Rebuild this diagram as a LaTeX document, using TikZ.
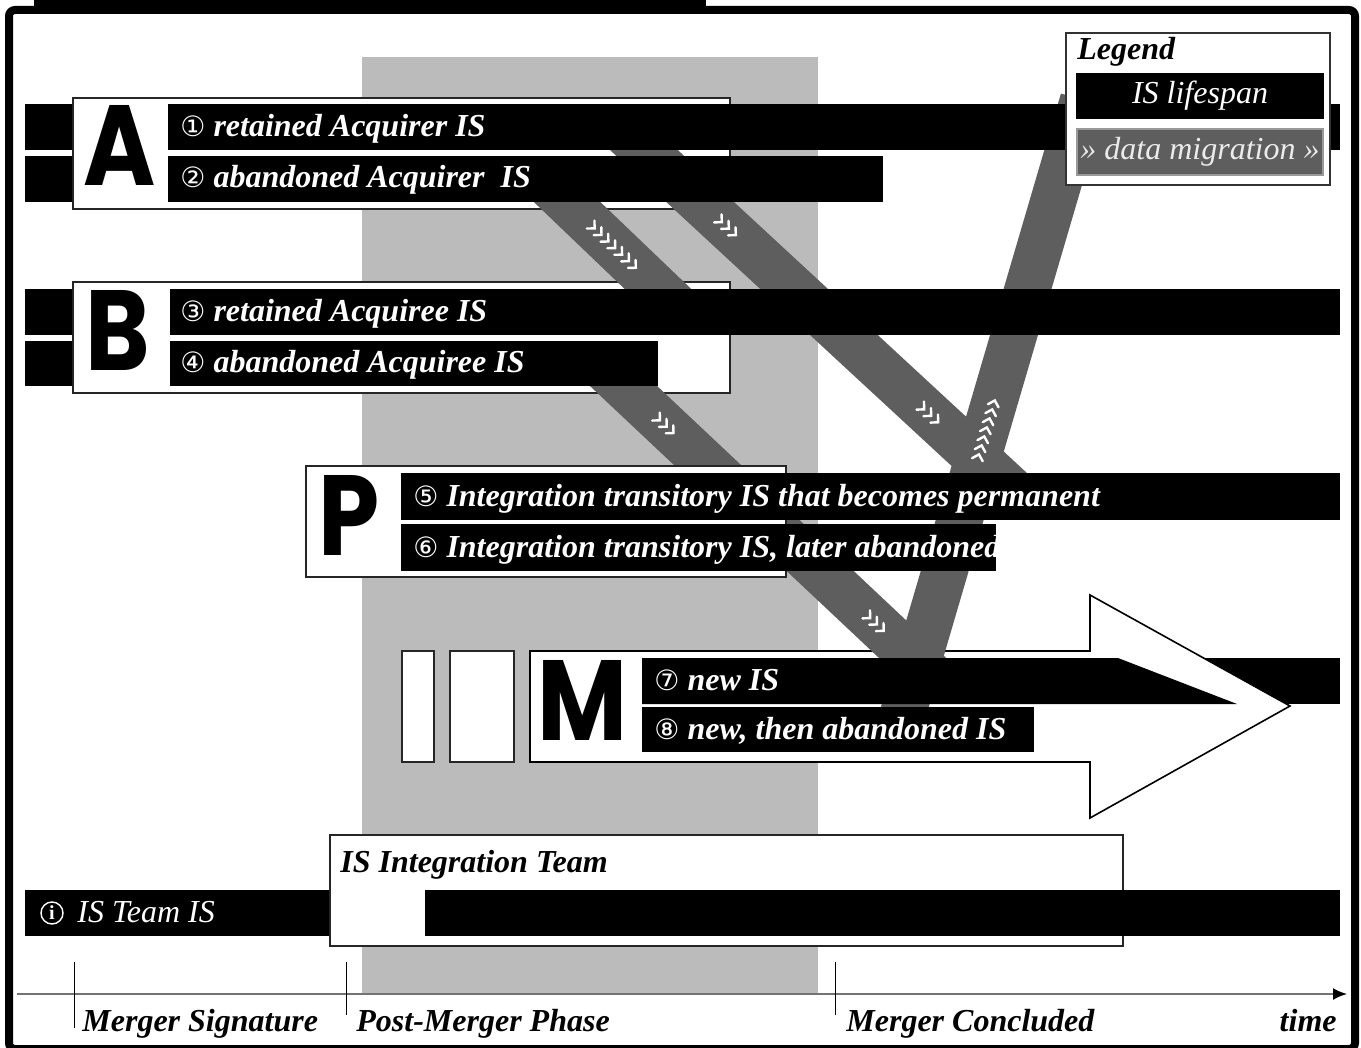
\documentclass[tikz,border=0pt]{standalone}
\usepackage{fontspec}
\setmainfont{Liberation Serif}
\newfontfamily\circfont{DejaVu Sans}
\newfontfamily\bigletter{Poppins}
\usepackage{tikz}
\usetikzlibrary{positioning,arrows.meta}

\definecolor{phasegray}{HTML}{BBBBBB}
\definecolor{migrgray}{HTML}{5E5E5E}

\newcommand{\cnum}[1]{{\circfont\mdseries\upshape\fontsize{14}{14}\selectfont #1}}
\newcommand{\grp}[1]{\scalebox{0.86}[1]{#1}}

\tikzset{
  isbar/.style={fill=black},
  groupbox/.style={fill=white, draw=black!85, line width=1pt},
  barlabel/.style={anchor=base west, inner sep=0pt, text=white,
    font=\fontsize{16}{18}\selectfont\bfseries\itshape},
  plainlabel/.style={anchor=base west, inner sep=0pt,
    font=\fontsize{16}{18}\selectfont\bfseries\itshape},
  bigchar/.style={inner sep=0pt, font=\bigletter\bfseries\fontsize{57}{57}\selectfont},
  migr/.style={draw=migrgray, line width=23pt},
  chv/.pic={\draw[white, line width=1.2pt, line cap=round] (-3,5.5) -- (2.5,0) -- (-3,-5.5);},
  tick/.style={draw=black, line width=0.4pt}
}

\begin{document}
\begin{tikzpicture}[x=0.5pt, y=-0.5pt]
  \useasboundingbox (0,0) rectangle (1361,1048);
  \fill[white] (0,0) rectangle (1361,1048);

  % post-merger phase
  \fill[phasegray] (362,57) rectangle (818,994);

  % lifespans running in from the left
  \fill[isbar] (25,104) rectangle (1340,150);
  \fill[isbar] (25,156) rectangle (883,202);
  \fill[isbar] (25,289) rectangle (1340,335);
  \fill[isbar] (25,341) rectangle (658,386);
  \fill[isbar] (25,890) rectangle (1340,936);
  \fill[isbar] (642,658) rectangle (1340,704);

  % groups A and B
  \draw[groupbox] (73,98) rectangle (730,209);
  \draw[groupbox] (73,282) rectangle (730,393);
  \node[bigchar] (A) at (120,145) {\grp{A}};
  \node[bigchar] (B) at (118,330) {\grp{B}};

  % group M
  \draw[groupbox] (402,651) rectangle (434,762);
  \draw[groupbox] (450,651) rectangle (514,762);
  \draw[fill=white, draw=black, line width=0.8pt]
    (530,651) -- (1090,651) -- (1090,595) -- (1290,706) -- (1090,818)
    -- (1090,762) -- (530,762) -- cycle;
  \node[bigchar] (M) at (582,700) {\grp{M}};

  % data migration
  \coordinate (l1a) at (542,178);  \coordinate (l1b) at (682,312);
  \coordinate (l2a) at (619,127);  \coordinate (l2b) at (1019,497);
  \coordinate (l3a) at (598,362);  \coordinate (l3b) at (936,680);
  \coordinate (ua)  at (901,720);  \coordinate (ub)  at (1083,100);
  \draw[migr] (l1a) -- (l1b);
  \draw[migr] (l2a) -- (l2b);
  \draw[migr] (l3a) -- (l3b);
  \draw[migr] (ua) -- (ub);
  \foreach \i in {-3,...,3} {
    \pgfmathsetmacro\pp{0.51+\i*0.049}
    \path (l1a) -- (l1b) pic[pos=\pp, sloped] {chv};
    \pgfmathsetmacro\pp{0.468+\i*0.0145}
    \path (ua) -- (ub) pic[pos=\pp, sloped] {chv};
  }
  \foreach \i in {-1,0,1} {
    \pgfmathsetmacro\pp{0.27+\i*0.0175}
    \path (l2a) -- (l2b) pic[pos=\pp, sloped] {chv};
    \pgfmathsetmacro\pp{0.776+\i*0.0175}
    \path (l2a) -- (l2b) pic[pos=\pp, sloped] {chv};
    \pgfmathsetmacro\pp{0.198+\i*0.02}
    \path (l3a) -- (l3b) pic[pos=\pp, sloped] {chv};
    \pgfmathsetmacro\pp{0.82+\i*0.02}
    \path (l3a) -- (l3b) pic[pos=\pp, sloped] {chv};
  }

  % lifespans inside the groups
  \fill[isbar] (168,104) rectangle (1340,150);
  \fill[isbar] (168,156) rectangle (883,202);
  \fill[isbar] (170,289) rectangle (1340,335);
  \fill[isbar] (170,341) rectangle (658,386);
  \node[barlabel] (t1) at (180,137) {\cnum{①} retained Acquirer IS};
  \node[barlabel] (t2) at (180,188) {\cnum{②} abandoned Acquirer\ \ IS};
  \node[barlabel] (t3) at (180,322) {\cnum{③} retained Acquiree IS};
  \node[barlabel] (t4) at (180,372) {\cnum{④} abandoned Acquiree IS};

  \fill[isbar] (642,658) -- (1118,658) -- (1237,704) -- (642,704) -- cycle;
  \fill[isbar] (642,707) rectangle (1034,752);
  \node[barlabel] (t7) at (654,690) {\cnum{⑦} new IS};
  \node[barlabel] (t8) at (654,739) {\cnum{⑧} new, then abandoned IS};

  % group P
  \draw[groupbox] (306,466) rectangle (786,577);
  \node[bigchar] (P) at (349,515) {\grp{P}};
  \fill[isbar] (401,473) rectangle (1340,520);
  \fill[isbar] (401,524) rectangle (996,571);
  \node[barlabel] (t5) at (413,506) {\cnum{⑤} Integration transitory IS that becomes permanent};
  \begin{scope}
    \clip (401,524) rectangle (996,571);
    \node[barlabel] (t6) at (413,557) {\cnum{⑥} Integration transitory IS, later abandoned};
  \end{scope}

  % legend
  \draw[fill=white, draw=black!80, line width=1pt] (1066,33) rectangle (1330,185);
  \node[plainlabel] (leg) at (1077,60) {Legend};
  \node[fill=black, minimum width=124pt, minimum height=23pt, inner sep=0pt,
    text=white, font=\fontsize{16}{18}\selectfont\itshape] (life) at (1200,96) {IS lifespan};
  \node[fill=migrgray, draw=black!40, line width=1pt, minimum width=123pt, minimum height=23pt,
    inner sep=0pt, text=black!8, font=\fontsize{16}{18}\selectfont\itshape] (mig) at (1200,152)
    {» data migration »};

  % IS team
  \draw[groupbox] (330,835) rectangle (1123,946);
  \fill[isbar] (425,890) rectangle (1340,936);
  \node[plainlabel] (itt) at (340,872) {IS Integration Team};
  \node[circle, draw=white, line width=0.7pt, inner sep=0pt, minimum size=11pt,
    text=white, font=\fontsize{10}{10}\selectfont\bfseries] (info) at (52,913) {i};
  \node[anchor=base west, inner sep=0pt, text=white, font=\fontsize{16}{18}\selectfont\itshape]
    (team) at (77,922) {IS Team IS};

  % time axis
  \coordinate (ax0) at (17,994);
  \coordinate (ax1) at (1347,994);
  \draw[black!55, line width=1pt, -{Latex[length=7pt, width=6pt, black]}] (ax0) -- (ax1);
  \draw[tick] (74,962) -- (74,1028);
  \draw[tick] (346,962) -- (346,1015);
  \draw[tick] (835,962) -- (835,1015);
  \node[plainlabel] (sig) at (82,1031) {Merger Signature};
  \node[plainlabel] (pmp) at (356,1031) {Post-Merger Phase};
  \node[plainlabel] (con) at (846,1031) {Merger Concluded};
  \node[plainlabel, anchor=base east] (time) at (1337,1031) {time};

  % frame
  \fill[black] (34,0) rectangle (706,10);
  \draw[line width=4pt, rounded corners=3pt] (9,10) rectangle (1355,1049);
\end{tikzpicture}
\end{document}
